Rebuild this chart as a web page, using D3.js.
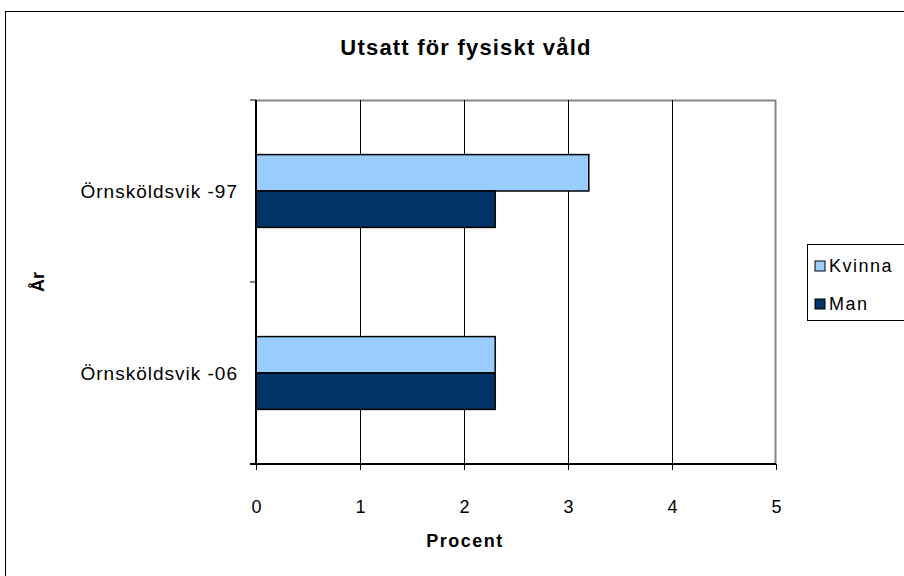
<!DOCTYPE html>
<html>
<head>
<meta charset="utf-8">
<script src="https://cdn.jsdelivr.net/npm/d3@7"></script>
<style>
  body { margin: 0; background: #fff; }
  svg text { font-family: "Liberation Sans", Arial, sans-serif; fill: #000; }
</style>
</head>
<body>
<div id="graph"></div>
<script>
// data
var categories = ["Örnsköldsvik -97", "Örnsköldsvik -06"];
var seriesNames = ["Kvinna", "Man"];
var kvinna = [3.2, 2.3];
var man = [2.3, 2.3];
var xTicks = [0, 1, 2, 3, 4, 5];
var colors = ["#99CCFF", "#003366"];

var svgWidth = 904, svgHeight = 576;
var margin = {top: 100, right: 128, bottom: 112, left: 256};
var width = svgWidth - margin.left - margin.right;
var height = svgHeight - margin.top - margin.bottom;

var rows = categories.map(function(c, i) { return {cat: c, vals: [kvinna[i], man[i]]}; });

var svg = d3.select("#graph").append("svg")
  .attr("width", svgWidth)
  .attr("height", svgHeight);

// outer chart frame
svg.append("rect")
  .attr("x", 5.5).attr("y", 11.5)
  .attr("width", svgWidth + 20).attr("height", svgHeight + 20)
  .style("fill", "none").style("stroke", "#000").style("stroke-width", 1);

var g = svg.append("g").attr("transform", "translate(" + margin.left + "," + margin.top + ")");

var xScale = d3.scaleLinear().domain([0, 5]).range([0, width]);
var yScale = d3.scaleBand().domain(categories).range([0, height]);
var inner = d3.scaleBand().domain(seriesNames).range([yScale.bandwidth() * 0.3, yScale.bandwidth() * 0.7]);

// plot frame (top and right grey)
g.append("path")
  .attr("d", "M0,0.5H" + (width - 0.5) + "V" + height)
  .style("fill", "none").style("stroke", "#888").style("stroke-width", 2);

// gridlines
g.selectAll(".grid").data(xTicks.slice(1, -1)).enter().append("line")
  .attr("x1", function(d) { return Math.round(xScale(d)) + 0.5; })
  .attr("x2", function(d) { return Math.round(xScale(d)) + 0.5; })
  .attr("y1", 0).attr("y2", height)
  .style("stroke", "#000").style("stroke-width", 1);

// bars
var groups = g.selectAll(".cat").data(rows).enter().append("g")
  .attr("transform", function(d) { return "translate(0," + yScale(d.cat) + ")"; });

groups.selectAll("rect").data(function(d) { return d.vals; }).enter().append("rect")
  .attr("x", 0)
  .attr("y", function(d, i) { return inner(seriesNames[i]); })
  .attr("width", function(d) { return xScale(d); })
  .attr("height", inner.bandwidth())
  .style("fill", function(d, i) { return colors[i]; })
  .style("stroke", "#000").style("stroke-width", 1.5);

// x axis
var xAxis = g.append("g")
  .attr("transform", "translate(0," + height + ")")
  .call(d3.axisBottom(xScale).tickValues(xTicks).tickSize(6).tickPadding(30).tickFormat(d3.format("d")));
xAxis.select(".domain").attr("d", "M-6,0H" + width).style("stroke", "#000").style("stroke-width", 2);
xAxis.selectAll("text").attr("font-size", null).style("font-size", "18px").style("font-family", "Liberation Sans, Arial, sans-serif");
xAxis.attr("font-size", null);

// y axis
var yTickPos = [0, yScale.bandwidth(), height];
g.append("line").attr("x1", 0).attr("x2", 0).attr("y1", 0).attr("y2", height)
  .style("stroke", "#000").style("stroke-width", 2);
g.selectAll(".ytick").data(yTickPos).enter().append("line")
  .attr("x1", -6).attr("x2", 0)
  .attr("y1", function(d) { return d; }).attr("y2", function(d) { return d; })
  .style("stroke", "#000").style("stroke-width", 1);
g.selectAll(".ylab").data(categories).enter().append("text")
  .attr("x", -18)
  .attr("y", function(d) { return yScale(d) + yScale.bandwidth() / 2; })
  .attr("dy", "0.35em")
  .attr("text-anchor", "end")
  .style("font-size", "19px").style("letter-spacing", "1px")
  .text(function(d) { return d; });

// titles
svg.append("text")
  .attr("x", 466).attr("y", 55)
  .attr("text-anchor", "middle")
  .style("font-size", "22px").style("font-weight", "bold").style("letter-spacing", "1.2px")
  .text("Utsatt för fysiskt våld");

svg.append("text")
  .attr("x", 465).attr("y", 547)
  .attr("text-anchor", "middle")
  .style("font-size", "18px").style("font-weight", "bold").style("letter-spacing", "1.5px")
  .text("Procent");

svg.append("text")
  .attr("transform", "translate(44,282) rotate(-90)")
  .attr("text-anchor", "middle")
  .style("font-size", "18px").style("font-weight", "bold")
  .text("År");

// legend
var legend = svg.append("g").attr("transform", "translate(807,244)");
legend.append("rect")
  .attr("x", 0.5).attr("y", 0.5).attr("width", 120).attr("height", 76)
  .style("fill", "#fff").style("stroke", "#000").style("stroke-width", 1);
var items = legend.selectAll(".item").data(seriesNames).enter().append("g")
  .attr("transform", function(d, i) { return "translate(8," + (22 + i * 38) + ")"; });
items.append("rect")
  .attr("x", 0).attr("y", -5).attr("width", 10).attr("height", 10)
  .style("fill", function(d, i) { return colors[i]; })
  .style("stroke", "#000").style("stroke-width", 1);
items.append("text")
  .attr("x", 14).attr("dy", "0.35em")
  .style("font-size", "18px").style("letter-spacing", "1.5px")
  .text(function(d) { return d; });
</script>
</body>
</html>
